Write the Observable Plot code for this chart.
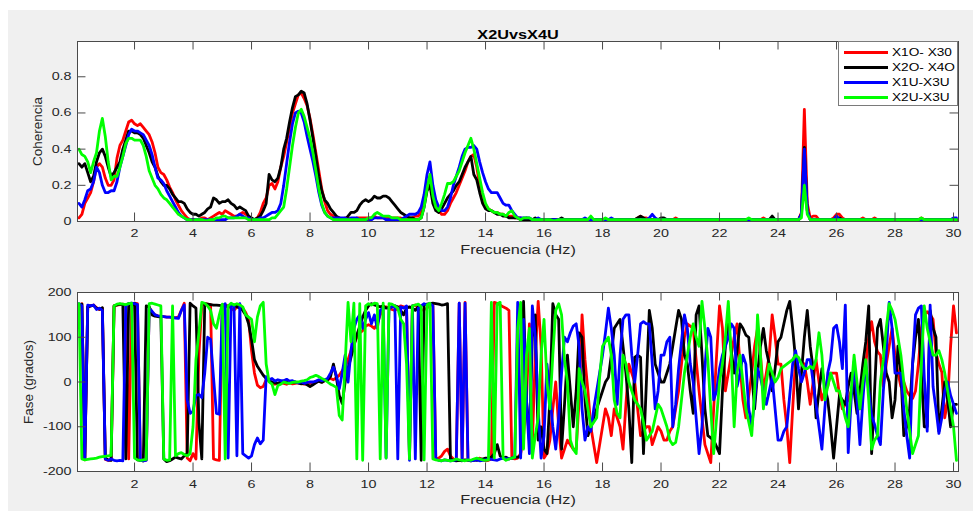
<!DOCTYPE html>
<html><head><meta charset="utf-8">
<script src="https://cdn.jsdelivr.net/npm/d3@7"></script>
<script src="https://cdn.jsdelivr.net/npm/@observablehq/plot@0.6"></script>
<style>
html,body{margin:0;padding:0;background:#fff;}
#wrap{position:relative;width:973px;height:511px;overflow:hidden;font-family:"Liberation Sans",Arial,sans-serif;}
#bg{position:absolute;left:8px;top:10px;width:965px;height:501px;background:#f0f0f0;}
#top{position:absolute;left:0;top:0;}
#bot{position:absolute;left:0;top:260px;}
#legend{position:absolute;left:838px;top:41px;width:120px;height:65px;background:#fff;border:1px solid #7a7a7a;box-sizing:border-box;}
.lg{position:absolute;left:0;height:15px;width:118px;}
.lg svg{position:absolute;left:4px;top:0;}
.lg span{position:absolute;left:53px;top:0;font-size:10.5px;line-height:15px;color:#000;transform:scaleX(1.3);transform-origin:0 50%;white-space:nowrap;}
</style></head><body>
<div id="wrap"><div id="bg"></div><div id="top"></div><div id="bot"></div><div id="legend"></div></div>
<script>
// ---- series names / colours ----
const seriesNames = ["X1O- X30", "X2O- X4O", "X1U-X3U", "X2U-X3U"];
const seriesColors = ["#ff0000", "#000000", "#0000ff", "#00ff00"];
const titleText = "X2UvsX4U";
const xLabel = "Frecuencia (Hz)";
const cohLabel = "Coherencia";
const phaseLabel = "Fase (grados)";
const xTicks = [2,4,6,8,10,12,14,16,18,20,22,24,26,28,30];
const cohTicks = [0, 0.2, 0.4, 0.6, 0.8];
const phaseTicks = [-200, -100, 0, 100, 200];
// frequency grid: 0.1 Hz .. 30.1 Hz, step 0.1
const freqStart = 0.1, freqStep = 0.1;

// ---- coherence (one row = 1 Hz, f = k+0.1 .. k+1.0) ----
const redCoh = [
.02,.04,.1,.13,.16,.22,.3,.32,.3,.24,
.2,.2,.23,.35,.42,.45,.5,.55,.56,.54,
.53,.54,.52,.5,.48,.44,.38,.3,.27,.26,
.23,.19,.16,.12,.09,.06,.04,.02,.01,.01,
.01,.01,.02,.02,.01,.02,.03,.04,.05,.04,
.06,.05,.04,.03,.03,.04,.05,.04,.03,.01,
.01,.02,.05,.1,.13,.2,.21,.18,.22,.3,
.36,.44,.52,.6,.65,.7,.71,.68,.64,.57,
.48,.38,.28,.18,.11,.06,.04,.03,.02,.02,
.01,.02,.02,.01,.01,.02,.02,.02,.02,.02,
.02,.03,.02,.02,.02,.02,.02,.02,.02,.02,
.02,.01,.02,.02,.02,.03,.03,.05,.1,.18,
.25,.17,.1,.06,.04,.04,.06,.1,.13,.16,
.2,.24,.28,.33,.36,.37,.3,.2,.13,.09,
.07,.06,.05,.05,.04,.04,.03,.03,.03,.02,
.02,.02,.01,.02,.01,.01,.01,.01,.01,.01,
.01,.01,.01,.005,.01,.01,.01,.01,.01,.01,
.01,.01,.01,.01,.01,.01,.01,.01,.005,.01,
.01,.01,.01,.005,.01,.01,.01,.01,.01,.01,
.01,.02,.03,.02,.02,.01,.01,.01,.01,.01,
.01,.01,.01,.01,.02,.01,.01,.01,.01,.01,
.01,.01,.01,.01,.01,.01,.01,.005,.01,.01,
.01,.01,.01,.01,.01,.01,.01,.01,.01,.01,
.01,.01,.01,.01,.02,.01,.01,.01,.01,.01,
.01,.01,.01,.01,.01,.01,.01,.05,.62,.1,
.02,.03,.03,.01,.01,.01,.01,.01,.02,.04,
.04,.02,.01,.01,.01,.01,.01,.01,.02,.01,
.01,.01,.02,.01,.01,.01,.01,.01,.01,.01,
.01,.01,.01,.01,.01,.01,.01,.01,.02,.01,
.01,.01,.01,.01,.01,.01,.01,.01,.01,.01,
.01];
const blackCoh = [
.32,.3,.32,.27,.22,.25,.33,.38,.4,.36,
.3,.25,.27,.3,.33,.4,.45,.5,.5,.49,
.49,.48,.46,.42,.38,.33,.3,.25,.22,.2,
.2,.18,.15,.13,.11,.11,.1,.07,.05,.04,
.04,.03,.04,.05,.07,.08,.13,.12,.1,.11,
.11,.12,.1,.09,.07,.08,.07,.06,.03,.02,
.01,.02,.03,.06,.1,.26,.23,.22,.24,.3,
.4,.46,.55,.63,.69,.7,.72,.71,.65,.56,
.46,.36,.25,.17,.12,.1,.07,.05,.03,.02,
.01,.01,.03,.05,.05,.06,.09,.11,.12,.11,
.12,.14,.13,.13,.14,.14,.13,.11,.09,.07,
.05,.04,.03,.02,.02,.01,.01,.02,.08,.17,
.2,.1,.06,.05,.07,.1,.13,.15,.17,.2,
.22,.26,.3,.33,.36,.26,.23,.16,.1,.07,
.06,.06,.05,.04,.04,.03,.03,.02,.02,.02,
.02,.01,.01,.01,.01,.01,.02,.01,.01,.01,
.01,.01,.01,.01,.01,.02,.01,.01,.01,.01,
.01,.01,.01,.01,.01,.01,.01,.01,.01,.01,
.01,.01,.01,.01,.01,.01,.01,.01,.01,.01,
.01,.02,.03,.02,.01,.01,.01,.01,.01,.02,
.02,.01,.01,.01,.01,.01,.01,.01,.01,.01,
.01,.01,.01,.01,.01,.01,.01,.01,.01,.005,
.01,.01,.01,.01,.01,.01,.01,.01,.01,.01,
.01,.01,.01,.01,.01,.01,.01,.03,.01,.01,
.01,.01,.01,.01,.01,.01,.01,.04,.41,.06,
.01,.01,.01,.01,.01,.01,.01,.01,.01,.02,
.02,.01,.01,.01,.01,.01,.01,.01,.01,.01,
.01,.01,.01,.01,.01,.01,.01,.01,.01,.01,
.01,.01,.01,.01,.01,.01,.01,.01,.01,.01,
.01,.01,.01,.01,.01,.01,.01,.01,.01,.01,
.01];
const blueCoh = [
.1,.08,.12,.17,.18,.22,.3,.27,.2,.16,
.16,.17,.17,.22,.3,.36,.42,.48,.51,.5,
.5,.49,.48,.45,.42,.37,.3,.24,.23,.21,
.17,.14,.11,.08,.05,.03,.02,.01,.01,.01,
.01,.01,.01,.01,.01,.01,.01,.01,.01,.01,
.01,.02,.02,.02,.03,.04,.03,.02,.02,.01,
.01,.01,.02,.02,.03,.04,.05,.05,.06,.1,
.2,.32,.44,.54,.6,.61,.6,.55,.47,.4,
.33,.25,.16,.09,.05,.03,.02,.02,.02,.02,
.02,.02,.01,.02,.02,.02,.01,.01,.01,.01,
.01,.02,.02,.02,.02,.01,.01,.01,.01,.01,
.01,.02,.03,.04,.04,.04,.05,.08,.15,.26,
.33,.2,.12,.08,.06,.06,.08,.13,.2,.25,
.3,.36,.4,.41,.41,.42,.4,.33,.27,.22,
.18,.16,.16,.16,.13,.1,.09,.09,.06,.04,
.02,.02,.02,.02,.02,.01,.01,.02,.01,.01,
.01,.01,.01,.01,.01,.01,.01,.01,.01,.01,
.01,.01,.01,.02,.01,.01,.01,.01,.01,.01,
.01,.01,.02,.01,.01,.01,.01,.01,.01,.01,
.01,.01,.01,.01,.01,.02,.04,.02,.01,.01,
.01,.01,.01,.01,.01,.01,.01,.01,.01,.01,
.01,.01,.01,.01,.01,.01,.01,.01,.01,.01,
.01,.01,.01,.01,.01,.01,.01,.01,.01,.01,
.01,.01,.01,.01,.01,.01,.01,.01,.01,.01,
.01,.01,.01,.01,.01,.01,.01,.04,.4,.06,
.01,.01,.01,.01,.01,.01,.01,.01,.01,.03,
.01,.01,.01,.01,.01,.01,.01,.01,.01,.01,
.01,.01,.01,.01,.01,.01,.01,.01,.01,.01,
.01,.01,.01,.01,.01,.01,.01,.01,.01,.01,
.01,.01,.01,.01,.01,.01,.01,.01,.01,.02,
.02];
const greenCoh = [
.4,.37,.36,.33,.27,.33,.38,.5,.57,.47,
.33,.23,.25,.25,.3,.36,.43,.46,.46,.45,
.45,.45,.42,.36,.28,.24,.2,.18,.15,.13,
.12,.1,.08,.06,.04,.03,.02,.01,.01,.005,
.01,.01,.01,.005,.005,.01,.01,.02,.02,.03,
.03,.02,.02,.02,.02,.02,.02,.02,.01,.01,
.01,.01,.01,.01,.01,.01,.02,.02,.04,.06,
.08,.18,.3,.42,.52,.6,.62,.58,.52,.46,
.38,.28,.18,.1,.05,.03,.02,.01,.01,.01,
.01,.01,.01,.01,.01,.01,.01,.01,.01,.02,
.02,.04,.05,.04,.03,.03,.03,.02,.02,.02,
.01,.01,.01,.01,.01,.01,.01,.02,.08,.18,
.26,.14,.08,.06,.1,.15,.21,.21,.22,.25,
.28,.33,.38,.42,.46,.4,.32,.24,.16,.1,
.07,.06,.05,.05,.04,.04,.03,.05,.06,.03,
.02,.01,.02,.02,.02,.01,.01,.01,.01,.01,
.01,.01,.005,.005,.01,.01,.01,.01,.01,.01,
.01,.01,.01,.01,.01,.03,.01,.01,.01,.01,
.02,.01,.01,.01,.01,.01,.01,.01,.01,.01,
.01,.01,.01,.01,.01,.01,.01,.01,.01,.01,
.01,.01,.01,.01,.01,.01,.01,.01,.01,.01,
.01,.01,.01,.01,.01,.01,.01,.01,.01,.01,
.01,.01,.01,.01,.01,.01,.01,.01,.01,.02,
.01,.01,.01,.01,.01,.01,.01,.01,.01,.01,
.01,.01,.01,.01,.01,.01,.01,.02,.2,.04,
.01,.01,.01,.01,.01,.01,.01,.01,.01,.01,
.01,.01,.01,.01,.01,.01,.01,.01,.01,.01,
.01,.01,.01,.01,.01,.01,.01,.01,.01,.01,
.01,.01,.01,.01,.01,.01,.01,.01,.02,.01,
.01,.01,.01,.01,.01,.01,.01,.01,.01,.01,
.01];

// ---- phase in degrees (same grid) ----
const redPhase = [
172,175,-174,168,170,172,166,162,165,-173,
-175,-174,170,172,173,174,172,-172,170,176,
175,-175,-176,-174,168,155,150,148,147,146,
145,145,144,144,145,160,176,-170,-176,-160,
-172,60,172,175,174,173,-172,-174,-175,170,
172,170,165,160,168,172,165,155,140,70,
20,-7,-13,-10,5,3,-2,-5,-3,-2,
-3,-5,-2,-4,-3,-2,-3,-5,-4,-3,
-2,0,2,0,3,5,8,5,10,15,
25,35,50,70,85,100,110,115,125,128,
125,120,130,150,165,168,165,162,160,165,
170,168,165,-170,170,172,165,160,162,165,
172,175,-172,-170,-165,-155,-150,-165,-172,-174,
176,-175,178,-174,-176,-175,-172,-170,-174,-176,
-175,-172,178,176,172,168,165,160,-170,-172,
-170,-160,-120,-40,130,-140,60,180,80,-170,
-160,-130,-60,0,-100,-170,-150,-130,-140,-150,
-150,-40,150,50,-20,-100,-140,-180,-140,-100,
-60,-80,-120,-60,-80,-100,-150,-50,40,20,
0,-60,-120,-110,-100,-100,-140,-120,-100,-110,
-130,-130,-110,-100,-60,-20,40,100,130,125,
120,50,-20,-80,-140,-160,-180,-60,60,170,
120,-20,20,60,100,130,40,-40,-80,-30,
20,80,120,60,-20,20,60,150,100,40,
40,-40,-100,-180,-60,50,50,45,40,0,
-50,0,50,0,-40,-20,-10,20,20,20,
-30,-60,-50,-40,-20,0,-30,-60,-20,40,
100,135,90,68,60,-10,40,80,120,60,
20,-10,0,-20,-30,-37,-20,40,120,150,
157,150,140,65,40,22,-80,-40,80,170,
110];
const blackPhase = [
172,174,-172,168,170,171,165,163,166,-170,
-174,-175,170,172,174,173,-172,175,174,176,
-174,-175,-176,170,168,150,147,146,145,-172,
-178,-176,-172,-168,-170,-172,-165,-160,176,170,
165,-90,-172,175,174,173,172,172,171,170,
170,168,170,172,168,165,160,150,130,95,
50,35,25,15,8,3,0,-2,-3,0,
2,0,-2,-1,0,-2,-4,-3,-6,-10,
-6,-2,2,-1,3,5,12,40,10,-30,
-48,0,30,55,80,105,125,145,160,170,
175,172,170,168,170,165,166,168,170,168,
160,150,165,168,165,160,168,-175,172,174,
175,176,175,174,172,173,175,-172,-175,-176,
-175,-176,-174,-175,-176,-174,-175,-173,-172,-170,
-170,-168,-160,-140,-165,-170,-168,-172,-170,-168,
-168,-165,180,-40,-130,100,150,-130,-100,-150,
-160,-40,175,150,140,-150,-50,60,-20,-100,
-20,110,100,-40,-120,-100,-80,-60,-40,-20,
0,10,60,120,130,140,80,20,-60,-180,
55,60,55,-160,0,160,120,40,20,0,
0,20,40,80,120,160,140,60,40,-20,
-70,150,170,60,-60,-120,-125,-130,-145,-160,
-20,80,130,70,20,70,130,120,105,100,
20,-60,20,80,120,70,40,-20,30,90,
100,130,160,180,120,50,-60,20,100,160,
80,30,-80,-20,30,-10,-40,-100,-170,-100,
-30,-40,-50,-10,20,-20,-70,-20,40,90,
170,-160,-20,120,140,80,20,0,-80,-40,
80,20,-120,-100,-60,40,100,140,20,-100,
-100,160,120,100,-110,-60,0,-40,-100,-50,
-50];
const bluePhase = [
175,170,-172,172,170,172,162,165,160,-172,
-175,-172,-175,-176,-175,-176,170,175,176,175,
173,-175,-176,-175,165,158,150,148,147,146,
145,145,144,143,142,160,172,-40,-70,-65,
-30,-28,-35,20,100,95,10,-70,-72,170,
175,-170,172,170,-165,175,-160,-165,-170,-165,
-140,-125,-138,-130,12,5,8,2,5,3,
3,6,2,3,0,-2,0,-3,-1,0,
0,2,5,3,5,8,20,33,15,-15,
20,60,0,70,120,140,150,120,140,155,
130,150,120,160,165,-170,165,168,170,-172,
168,165,170,-175,170,-172,165,170,175,172,
175,170,-172,-175,-176,-174,-175,-176,-175,-174,
176,-175,176,-174,-176,-175,-174,-176,-175,-174,
-172,-173,-174,-175,-172,-170,-171,-172,-170,-168,
178,-170,140,-40,-160,170,100,-60,-170,-120,
40,-30,-100,-150,-80,20,100,90,110,125,
130,80,-60,-130,-100,-110,-60,-20,20,60,
110,165,120,60,-50,60,140,150,150,60,
0,60,130,135,130,130,40,-60,-20,60,
60,90,100,-100,-50,30,90,150,120,40,
0,-80,-160,-100,30,120,100,-40,-20,30,
60,80,100,130,120,-10,20,60,40,-60,
-100,-40,30,10,-20,-50,-20,10,-60,-130,
-130,-110,-100,-30,40,70,30,0,20,50,
50,0,-50,-100,-150,-60,20,50,120,127,
90,30,172,-158,-40,45,-40,-140,-40,45,
-20,-75,-95,-120,-140,-20,60,178,120,20,
20,20,-60,-120,-170,40,150,165,170,10,
-110,172,-10,-60,-115,-80,-20,0,-30,-50,
-70];
const greenPhase = [
175,-172,-174,-173,-172,-171,-170,-168,-167,-166,
-165,-164,170,174,175,174,173,175,176,-170,
-174,-175,-174,-173,175,176,174,172,170,-172,
-175,-174,170,-165,-160,-158,-162,-165,-160,-100,
50,110,178,176,170,160,130,120,150,174,
-172,170,176,172,175,172,168,150,145,140,
90,145,170,178,40,0,-5,-28,-8,-5,
0,-2,-3,-1,0,0,2,3,5,10,
12,15,12,8,5,0,-5,-8,-12,-75,
-85,40,178,90,176,-172,175,-175,170,175,
172,176,175,-172,176,-170,175,174,170,165,
140,130,40,-172,170,172,174,168,-174,172,
176,-172,-174,-175,-176,-174,-175,-176,-175,-172,
-174,-175,-176,-174,-175,-172,-170,-172,-174,-175,
-174,178,-170,175,178,-170,-175,-172,-170,-168,
120,178,-150,60,120,-170,-120,-80,60,140,
0,-60,60,160,175,150,50,0,-130,-150,
-160,30,0,-20,-60,-100,-90,-80,10,80,
90,100,60,-40,-70,-80,60,40,0,-20,
-40,-50,-60,-90,-130,-120,-110,-80,-50,-60,
-80,-100,-130,-140,-135,-100,-40,20,60,100,
130,100,80,180,120,50,-60,-160,-80,0,
40,100,180,60,-100,20,60,0,-60,-90,
-120,-20,150,60,-60,0,40,20,0,10,
30,35,40,45,50,60,55,40,30,30,
35,30,50,110,60,-40,-10,20,0,-20,
-20,-50,-80,-100,-20,60,0,-60,0,50,
-40,-150,-130,-120,0,50,120,175,160,140,
100,60,0,-60,-110,-160,-140,-120,40,170,
120,90,60,60,70,50,20,-20,-60,-100,
-175];

const cohSeries = [redCoh, blackCoh, blueCoh, greenCoh];
const phaseSeries = [redPhase, blackPhase, bluePhase, greenPhase];
const n = redCoh.length;
[...cohSeries, ...phaseSeries].forEach((a, i) => { if (a.length !== n) throw new Error("length mismatch in series " + i + ": " + a.length); });
const freq = redCoh.map((_, i) => +(freqStart + i * freqStep).toFixed(2));

const xDomain = [0.05, 30.17];
const axisColor = "#4a4a4a";
const font = "Liberation Sans, Arial, sans-serif";
const textStretch = 1.3;

function panel({series, yDomain, yTicks, yLabel, height, marginTop, marginBottom, yLabelDx, xPad, title}) {
  const xLen = 0.29; // tick length in x units (~8.5 px)
  const yLen = (yDomain[1] - yDomain[0]) * 8.5 / (height - marginTop - marginBottom);
  const marks = [
    Plot.frame({fill: "white", stroke: null}),
    ...series.map((vals, k) => Plot.lineY(vals, {x: freq, y: d => d, stroke: seriesColors[k], strokeWidth: 2.8, strokeLinejoin: "round", clip: true})),
    Plot.ruleX(xTicks, {x: d => d, y1: yDomain[0], y2: yDomain[0] + yLen, stroke: axisColor}),
    Plot.ruleX(xTicks, {x: d => d, y1: yDomain[1] - yLen, y2: yDomain[1], stroke: axisColor}),
    Plot.ruleY(yTicks, {y: d => d, x1: xDomain[0], x2: xDomain[0] + xLen, stroke: axisColor}),
    Plot.ruleY(yTicks, {y: d => d, x1: xDomain[1] - xLen, x2: xDomain[1], stroke: axisColor}),
    Plot.frame({stroke: axisColor, strokeWidth: 1}),
    Plot.axisX(xTicks, {tickSize: 0, tickPadding: xPad, tickFormat: d => String(d), label: null, fontSize: 11, color: "#262626"}),
    Plot.axisY(yTicks, {tickSize: 0, tickPadding: 6, tickFormat: d => String(d), label: null, fontSize: 11, color: "#262626"}),
    Plot.text([xLabel], {text: d => d, frameAnchor: "bottom", dy: 32, fontSize: 12.5, fill: "#262626"}),
    Plot.text([yLabel], {text: d => d, frameAnchor: "left", dx: yLabelDx, rotate: -90, textAnchor: "middle", fontSize: 13.5, fill: "#262626"})
  ];
  if (title) marks.push(Plot.text([title], {text: d => d, frameAnchor: "top", dy: -11, fontWeight: "bold", fontSize: 12.5, fill: "#000"}));
  return Plot.plot({
    width: 973, height, marginLeft: 77, marginRight: 15, marginTop, marginBottom,
    x: {domain: xDomain}, y: {domain: yDomain},
    style: {background: "transparent", fontFamily: font, fontSize: "12px", color: "#262626", overflow: "visible"},
    marks
  });
}

function stretchText(svg) {
  svg.querySelectorAll("text").forEach(t => {
    const s = t.textContent;
    if (s === cohLabel || s === phaseLabel) return;
    const len = t.getComputedTextLength();
    t.setAttribute("textLength", (len * textStretch).toFixed(2));
    t.setAttribute("lengthAdjust", "spacingAndGlyphs");
  });
}

const topSvg = panel({
  series: cohSeries, yDomain: [0, 0.995], yTicks: cohTicks, yLabel: cohLabel,
  height: 260, marginTop: 41, marginBottom: 39, yLabelDx: -40, xPad: 8, title: titleText
});
document.getElementById("top").appendChild(topSvg);
const botSvg = panel({
  series: phaseSeries, yDomain: [-200, 200], yTicks: phaseTicks, yLabel: phaseLabel,
  height: 251, marginTop: 32, marginBottom: 40, yLabelDx: -49, xPad: 9
});
document.getElementById("bot").appendChild(botSvg);
stretchText(topSvg);
stretchText(botSvg);

// legend
const lg = document.getElementById("legend");
seriesNames.forEach((name, k) => {
  const row = document.createElement("div");
  row.className = "lg";
  row.style.top = (2.5 + k * 15.3) + "px";
  row.innerHTML = `<svg width="46" height="15"><line x1="1" x2="45" y1="7.5" y2="7.5" stroke="${seriesColors[k]}" stroke-width="2.8"/></svg><span>${name}</span>`;
  lg.appendChild(row);
});
</script>
</body></html>
